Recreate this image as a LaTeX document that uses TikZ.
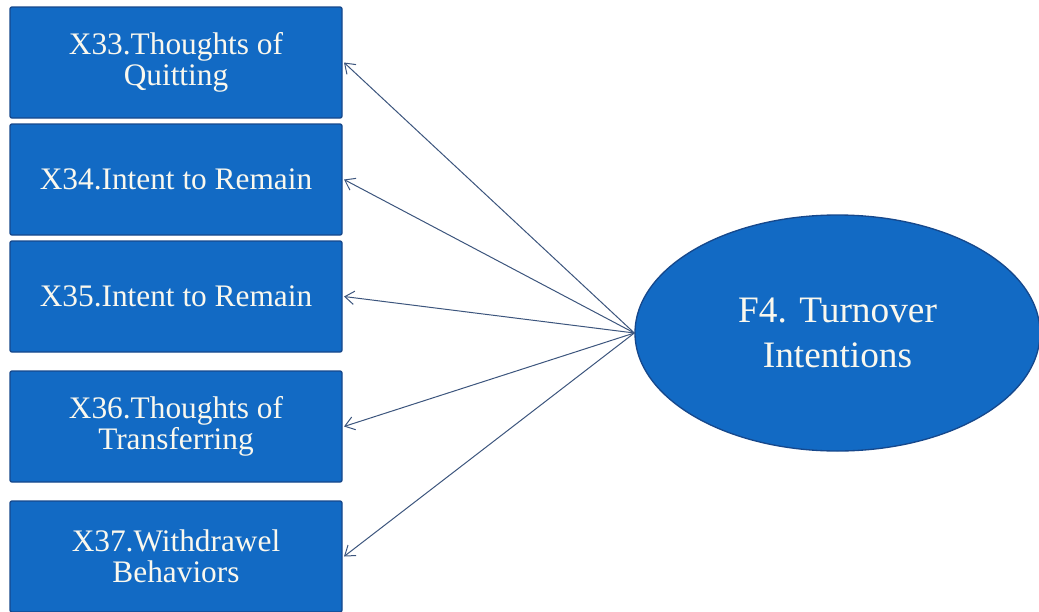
\documentclass[tikz,border=0pt]{standalone}
\usepackage{fontspec}
\setmainfont{Liberation Serif}
\usetikzlibrary{arrows.meta,shapes.geometric}
\definecolor{boxblue}{RGB}{18,106,196}
\definecolor{boxedge}{RGB}{22,72,140}
\definecolor{txtwhite}{RGB}{250,248,238}
\definecolor{linkcol}{RGB}{60,85,125}
\tikzset{
  itembox/.style={draw=boxedge, line width=1pt, fill=boxblue, rounded corners=1.5pt,
    minimum width=249pt, minimum height=83.25pt, inner sep=2pt,
    text=txtwhite, align=center, font=\fontsize{23.5}{23.5}\selectfont},
  factor/.style={ellipse, draw=boxedge, line width=1pt, fill=boxblue,
    minimum width=303.75pt, minimum height=177pt, inner sep=0pt,
    text=txtwhite, align=center, font=\fontsize{28}{34}\selectfont},
  link/.style={draw=linkcol, line width=0.75pt, -{Straight Barb[length=7pt,width=10pt]}}
}
\begin{document}
\begin{tikzpicture}[x=0.75pt,y=-0.75pt]
\useasboundingbox (0,0) rectangle (1039,611);
\clip (0,0) rectangle (1039,611);
\node[itembox] (x33) at (176,62.5) {X33.Thoughts of\\Quitting};
\node[itembox] (x34) at (176,179.5) {X34.Intent to Remain};
\node[itembox] (x35) at (176,296.5) {X35.Intent to Remain};
\node[itembox] (x36) at (176,426.5) {X36.Thoughts of\\Transferring};
\node[itembox] (x37) at (176,556.5) {X37.Withdrawel\\Behaviors};
\node[factor] (f4) at (837.5,333) {F4. Turnover\\Intentions};
\foreach \t in {x33,x34,x35,x36,x37}{
  \draw[link] (f4.west) -- ([xshift=1pt]\t.east);
}
\end{tikzpicture}
\end{document}
